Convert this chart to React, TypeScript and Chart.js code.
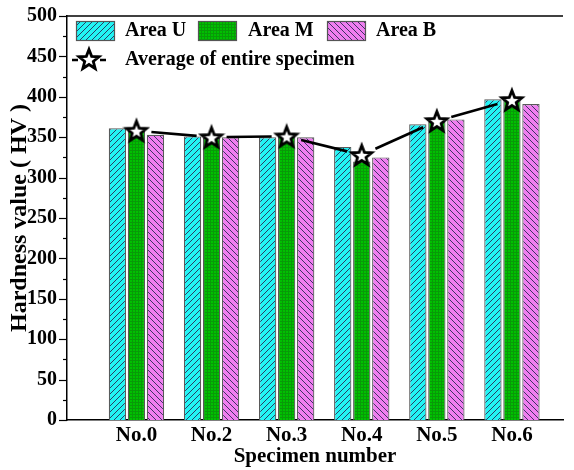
import React, { useEffect, useRef } from "react";
import { Chart, registerables } from "chart.js";

Chart.register(...registerables);

const categories = ["No.0", "No.2", "No.3", "No.4", "No.5", "No.6"];
const areaU = [361, 351, 350, 338, 366, 397];
const areaM = [360, 349, 355, 320, 369, 398];
const areaB = [353, 350, 350, 325, 372, 391];
const average = [358, 350, 351, 328, 370, 396];
const seriesNames = ["Area U", "Area M", "Area B", "Average of entire specimen"];

const FONT = "'Liberation Serif', 'Times New Roman', serif";

function makeHatch(bg: string, forward: boolean): CanvasPattern | string {
  const p = 6;
  const c = document.createElement("canvas");
  c.width = p;
  c.height = p;
  const g = c.getContext("2d");
  if (!g) return bg;
  g.fillStyle = bg;
  g.fillRect(0, 0, p, p);
  g.strokeStyle = "#2a2a55";
  g.lineWidth = 0.9;
  g.beginPath();
  if (forward) {
    g.moveTo(-1, p + 1);
    g.lineTo(p + 1, -1);
    g.moveTo(-1, 1);
    g.lineTo(1, -1);
    g.moveTo(p - 1, p + 1);
    g.lineTo(p + 1, p - 1);
  } else {
    g.moveTo(-1, -1);
    g.lineTo(p + 1, p + 1);
    g.moveTo(p - 1, -1);
    g.lineTo(p + 1, 1);
    g.moveTo(-1, p - 1);
    g.lineTo(1, p + 1);
  }
  g.stroke();
  return g.createPattern(c, "repeat") || bg;
}

function makeGrid(bg: string): CanvasPattern | string {
  const p = 3;
  const c = document.createElement("canvas");
  c.width = p;
  c.height = p;
  const g = c.getContext("2d");
  if (!g) return bg;
  g.fillStyle = bg;
  g.fillRect(0, 0, p, p);
  g.fillStyle = "#089a08";
  g.fillRect(0, 0, 1, p);
  g.fillRect(0, 0, p, 1);
  return g.createPattern(c, "repeat") || bg;
}

function makeStar(): HTMLCanvasElement {
  const s = 28;
  const c = document.createElement("canvas");
  c.width = s;
  c.height = s;
  const g = c.getContext("2d");
  if (!g) return c;
  const cx = s / 2;
  const cy = s / 2 + 1;
  const R = 10.5;
  const r = 4.5;
  g.beginPath();
  for (let i = 0; i < 10; i++) {
    const rad = i % 2 === 0 ? R : r;
    const a = -Math.PI / 2 + (i * Math.PI) / 5;
    const x = cx + rad * Math.cos(a);
    const y = cy + rad * Math.sin(a);
    if (i === 0) g.moveTo(x, y);
    else g.lineTo(x, y);
  }
  g.closePath();
  g.fillStyle = "#ffffff";
  g.fill();
  g.lineWidth = 2.8;
  g.strokeStyle = "#000000";
  g.lineJoin = "miter";
  g.stroke();
  return c;
}

export default function App() {
  const ref = useRef<HTMLCanvasElement | null>(null);

  useEffect(() => {
    if (!ref.current) return;
    const cyanFill = makeHatch("#22f4f4", true);
    const greenFill = makeGrid("#00c000");
    const pinkFill = makeHatch("#f07ef0", false);
    const star = makeStar();
    const gap = 15;

    const segmentPlugin = {
      id: "gappedLine",
      beforeDatasetDraw(chart: any, args: any) {
        if (args.index !== 3) return;
        const pts = chart.getDatasetMeta(3).data;
        const ctx = chart.ctx;
        ctx.save();
        ctx.strokeStyle = "#000";
        ctx.lineWidth = 2.6;
        ctx.lineCap = "butt";
        for (let i = 0; i < pts.length - 1; i++) {
          const a = pts[i];
          const b = pts[i + 1];
          const dx = b.x - a.x;
          const dy = b.y - a.y;
          const len = Math.sqrt(dx * dx + dy * dy);
          const ux = dx / len;
          const uy = dy / len;
          ctx.beginPath();
          ctx.moveTo(a.x + ux * gap, a.y + uy * gap);
          ctx.lineTo(b.x - ux * gap, b.y - uy * gap);
          ctx.stroke();
        }
        ctx.restore();
      },
    };

    const framePlugin = {
      id: "frame",
      afterDraw(chart: any) {
        const ctx = chart.ctx;
        const area = chart.chartArea;
        const y = chart.scales.y;
        ctx.save();
        ctx.strokeStyle = "#000";
        ctx.lineWidth = 1.5;
        ctx.beginPath();
        ctx.moveTo(area.left, area.top);
        ctx.lineTo(area.right, area.top);
        ctx.stroke();
        ctx.lineWidth = 1.2;
        for (let v = 0; v <= 500; v += 25) {
          const py = Math.round(y.getPixelForValue(v)) + 0.5;
          const len = v % 50 === 0 ? 8 : 4;
          ctx.beginPath();
          ctx.moveTo(area.left - len, py);
          ctx.lineTo(area.left, py);
          ctx.stroke();
        }
        ctx.restore();
      },
    };

    const legendPlugin = {
      id: "customLegend",
      afterDatasetsDraw(chart: any) {
        const ctx = chart.ctx;
        const ds = chart.data.datasets;
        ctx.save();
        ctx.font = `bold 20px ${FONT}`;
        ctx.fillStyle = "#000";
        ctx.textBaseline = "middle";
        ctx.textAlign = "left";
        const boxes = [
          { bx: 76, tx: 125 },
          { bx: 198, tx: 248 },
          { bx: 327, tx: 376 },
        ];
        boxes.forEach((b, i) => {
          ctx.fillStyle = ds[i].backgroundColor;
          ctx.fillRect(b.bx, 21, 38, 19);
          ctx.strokeStyle = "#555";
          ctx.lineWidth = 1.2;
          ctx.strokeRect(b.bx + 0.5, 21.5, 38, 19);
          ctx.fillStyle = "#000";
          ctx.fillText(ds[i].label, b.tx, 31);
        });
        ctx.strokeStyle = "#000";
        ctx.lineWidth = 2.6;
        ctx.beginPath();
        ctx.moveTo(72, 60);
        ctx.lineTo(78, 60);
        ctx.moveTo(100, 60);
        ctx.lineTo(106, 60);
        ctx.stroke();
        ctx.drawImage(star, 89 - 14, 60 - 15);
        ctx.fillText(ds[3].label, 125, 60);
        ctx.restore();
      },
    };

    const chart = new Chart(ref.current, {
      type: "bar",
      data: {
        datasets: [
          {
            label: seriesNames[0],
            data: categories.map((_, i) => ({ x: i + 1, y: areaU[i] })),
            backgroundColor: cyanFill as any,
            borderColor: "#5a5a5a",
            borderWidth: 1.2,
            categoryPercentage: 0.76,
            barPercentage: 0.91,
            order: 1,
          },
          {
            label: seriesNames[1],
            data: categories.map((_, i) => ({ x: i + 1, y: areaM[i] })),
            backgroundColor: greenFill as any,
            borderColor: "#5a5a5a",
            borderWidth: 1.2,
            categoryPercentage: 0.76,
            barPercentage: 0.91,
            order: 1,
          },
          {
            label: seriesNames[2],
            data: categories.map((_, i) => ({ x: i + 1, y: areaB[i] })),
            backgroundColor: pinkFill as any,
            borderColor: "#5a5a5a",
            borderWidth: 1.2,
            categoryPercentage: 0.76,
            barPercentage: 0.91,
            order: 1,
          },
          {
            type: "line" as any,
            label: seriesNames[3],
            data: categories.map((_, i) => ({ x: i + 1, y: average[i] })),
            showLine: false,
            pointStyle: star as any,
            pointRadius: 10,
            borderColor: "#000",
            backgroundColor: "#fff",
            order: 0,
          } as any,
        ],
      },
      options: {
        responsive: false,
        animation: false,
        layout: { padding: { top: 16, left: 0, right: 0, bottom: 0 } },
        plugins: {
          legend: { display: false },
          tooltip: { enabled: false },
        },
        scales: {
          x: {
            type: "linear",
            min: 0.075,
            max: 6.68,
            offset: false,
            afterFit: (s: any) => {
              s.height = 50;
              s.paddingLeft = 0;
              s.paddingRight = 0;
            },
            grid: { display: false, drawTicks: false },
            border: { display: true, color: "#000", width: 1.5 },
            ticks: {
              stepSize: 1,
              includeBounds: false,
              autoSkip: false,
              maxRotation: 0,
              padding: 3,
              color: "#000",
              font: { family: FONT, size: 21, weight: "bold" },
              callback: (v: any) => {
                const idx = Math.round(Number(v)) - 1;
                return Number.isInteger(Number(v)) && categories[idx] ? categories[idx] : "";
              },
            },
            title: {
              display: true,
              text: "Specimen number",
              color: "#000",
              font: { family: FONT, size: 21, weight: "bold", lineHeight: 1.2 },
              padding: { top: 0, bottom: 1 },
            },
          },
          y: {
            min: 0,
            max: 500,
            afterFit: (s: any) => {
              s.width = 67;
              s.paddingTop = 0;
              s.paddingBottom = 0;
            },
            grid: { display: false, drawTicks: false },
            border: { display: true, color: "#000", width: 1.5 },
            ticks: {
              stepSize: 50,
              padding: 10,
              color: "#000",
              font: { family: FONT, size: 20, weight: "bold" },
            },
            title: {
              display: true,
              text: "Hardness value ( HV )",
              color: "#000",
              font: { family: FONT, size: 24, weight: "bold", lineHeight: 1.2 },
              padding: { top: 5, bottom: 0 },
            },
          },
        },
      } as any,
      plugins: [segmentPlugin, framePlugin, legendPlugin],
    });
    return () => chart.destroy();
  }, []);

  return (
    <div style={{ position: "absolute", left: 0, top: 0, width: 574, height: 470, background: "#fff" }}>
      <canvas ref={ref} width={574} height={470} style={{ display: "block" }} />
    </div>
  );
}
